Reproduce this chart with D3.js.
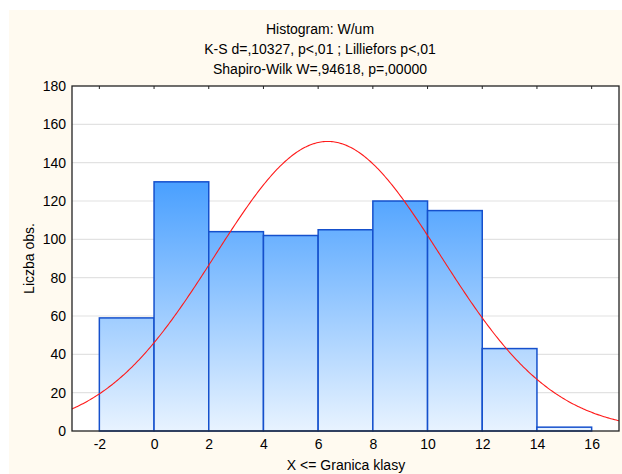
<!DOCTYPE html>
<html>
<head>
<meta charset="utf-8">
<script src="https://cdn.jsdelivr.net/npm/d3@7"></script>
<style>
  html, body { margin: 0; padding: 0; background: #ffffff; }
  svg { display: block; }
  text { font-family: "Liberation Sans", Arial, sans-serif; fill: #000; }
</style>
</head>
<body>
<svg id="chart" width="622" height="474"></svg>
<script>
// Class boundaries (upper limits) and counts per class
const binStarts = [-2, 0, 2, 4, 6, 8, 10, 12, 14];
const binWidth = 2;
const counts = [59, 130, 104, 102, 105, 120, 115, 43, 2];
const xTicks = [-2, 0, 2, 4, 6, 8, 10, 12, 14, 16];
const yTicks = [0, 20, 40, 60, 80, 100, 120, 140, 160, 180];
const titleLines = [
  "Histogram: W/um",
  "K-S d=,10327, p<,01 ; Lilliefors p<,01",
  "Shapiro-Wilk W=,94618, p=,00000"
];
// Fitted normal distribution parameters
const fitMean = 6.35;
const fitSd = 4.12;

const svg = d3.select("#chart");
const W = 622, H = 474;
const plot = { left: 72, right: 619, top: 86, bottom: 431 };
const FONT = "Liberation Sans, Arial, sans-serif";

// panel background
svg.append("rect").attr("x", 9).attr("y", 10).attr("width", W - 9).attr("height", H - 10)
  .attr("fill", "#fffaf0");

const x = d3.scaleLinear().domain([-3, 17]).range([plot.left, plot.right]);
const y = d3.scaleLinear().domain([0, 180]).range([plot.bottom, plot.top]);

// plot area
svg.append("rect").attr("x", plot.left).attr("y", plot.top)
  .attr("width", plot.right - plot.left).attr("height", plot.bottom - plot.top)
  .attr("fill", "#ffffff");

// horizontal gridlines
svg.append("g").selectAll("line").data(yTicks.slice(1, -1)).join("line")
  .attr("x1", plot.left).attr("x2", plot.right)
  .attr("y1", d => y(d)).attr("y2", d => y(d))
  .attr("stroke", "#e2e2e2").attr("stroke-width", 1.2);

// bar gradient, shared across the plot height
const defs = svg.append("defs");
const grad = defs.append("linearGradient").attr("id", "barGrad")
  .attr("gradientUnits", "userSpaceOnUse")
  .attr("x1", 0).attr("x2", 0).attr("y1", y(180)).attr("y2", y(0));
grad.append("stop").attr("offset", "0%").attr("stop-color", "#2d8cff");
grad.append("stop").attr("offset", "30%").attr("stop-color", "#4ea2ff");
grad.append("stop").attr("offset", "100%").attr("stop-color", "#e8f3ff");

const bars = binStarts.map((s, i) => ({ x0: s, x1: s + binWidth, n: counts[i] }));
svg.append("g").selectAll("rect").data(bars).join("rect")
  .attr("x", d => x(d.x0))
  .attr("y", d => y(d.n))
  .attr("width", d => x(d.x1) - x(d.x0))
  .attr("height", d => y(0) - y(d.n))
  .attr("fill", "url(#barGrad)")
  .attr("stroke", "#1550cc")
  .attr("stroke-width", 1.5);

// fitted normal curve scaled to counts
const N = d3.sum(counts);
const normal = v => N * binWidth / (fitSd * Math.sqrt(2 * Math.PI)) *
  Math.exp(-((v - fitMean) ** 2) / (2 * fitSd * fitSd));
const curvePts = d3.range(-3, 17.001, 0.05).map(v => [v, normal(v)]);
svg.append("path").datum(curvePts)
  .attr("d", d3.line().x(d => x(d[0])).y(d => y(d[1])))
  .attr("fill", "none").attr("stroke", "#ff1a1a").attr("stroke-width", 1.1);

// frame
svg.append("rect").attr("x", plot.left).attr("y", plot.top)
  .attr("width", plot.right - plot.left).attr("height", plot.bottom - plot.top)
  .attr("fill", "none").attr("stroke", "#222").attr("stroke-width", 1.3);

// axes (plain hyphen for negative labels)
const xAxis = svg.append("g").attr("transform", `translate(0,${plot.bottom})`)
  .call(d3.axisBottom(x).tickValues(xTicks).tickFormat(d => String(d)).tickSize(0).tickPadding(8));
xAxis.select(".domain").remove();
xAxis.selectAll("text").attr("font-size", 14).attr("font-family", FONT).attr("fill", "#000");

const yAxis = svg.append("g").attr("transform", `translate(${plot.left},0)`)
  .call(d3.axisLeft(y).tickValues(yTicks).tickFormat(d => String(d)).tickSize(0).tickPadding(6));
yAxis.select(".domain").remove();
yAxis.selectAll("text").attr("font-size", 14).attr("font-family", FONT).attr("fill", "#000");

// small inward ticks on the top edge
svg.append("g").selectAll("line").data(xTicks).join("line")
  .attr("x1", d => x(d)).attr("x2", d => x(d))
  .attr("y1", plot.top).attr("y2", plot.top + 3)
  .attr("stroke", "#222");

// titles
svg.append("g").selectAll("text").data(titleLines).join("text")
  .attr("x", 320).attr("y", (d, i) => 34 + i * 20)
  .attr("text-anchor", "middle").attr("font-size", 14).text(d => d);

svg.append("text").attr("x", 346).attr("y", 470).attr("text-anchor", "middle")
  .attr("font-size", 14).text("X <= Granica klasy");

svg.append("text").attr("transform", `translate(34,${(plot.top + plot.bottom) / 2}) rotate(-90)`)
  .attr("text-anchor", "middle").attr("font-size", 14).text("Liczba obs.");
</script>
</body>
</html>
